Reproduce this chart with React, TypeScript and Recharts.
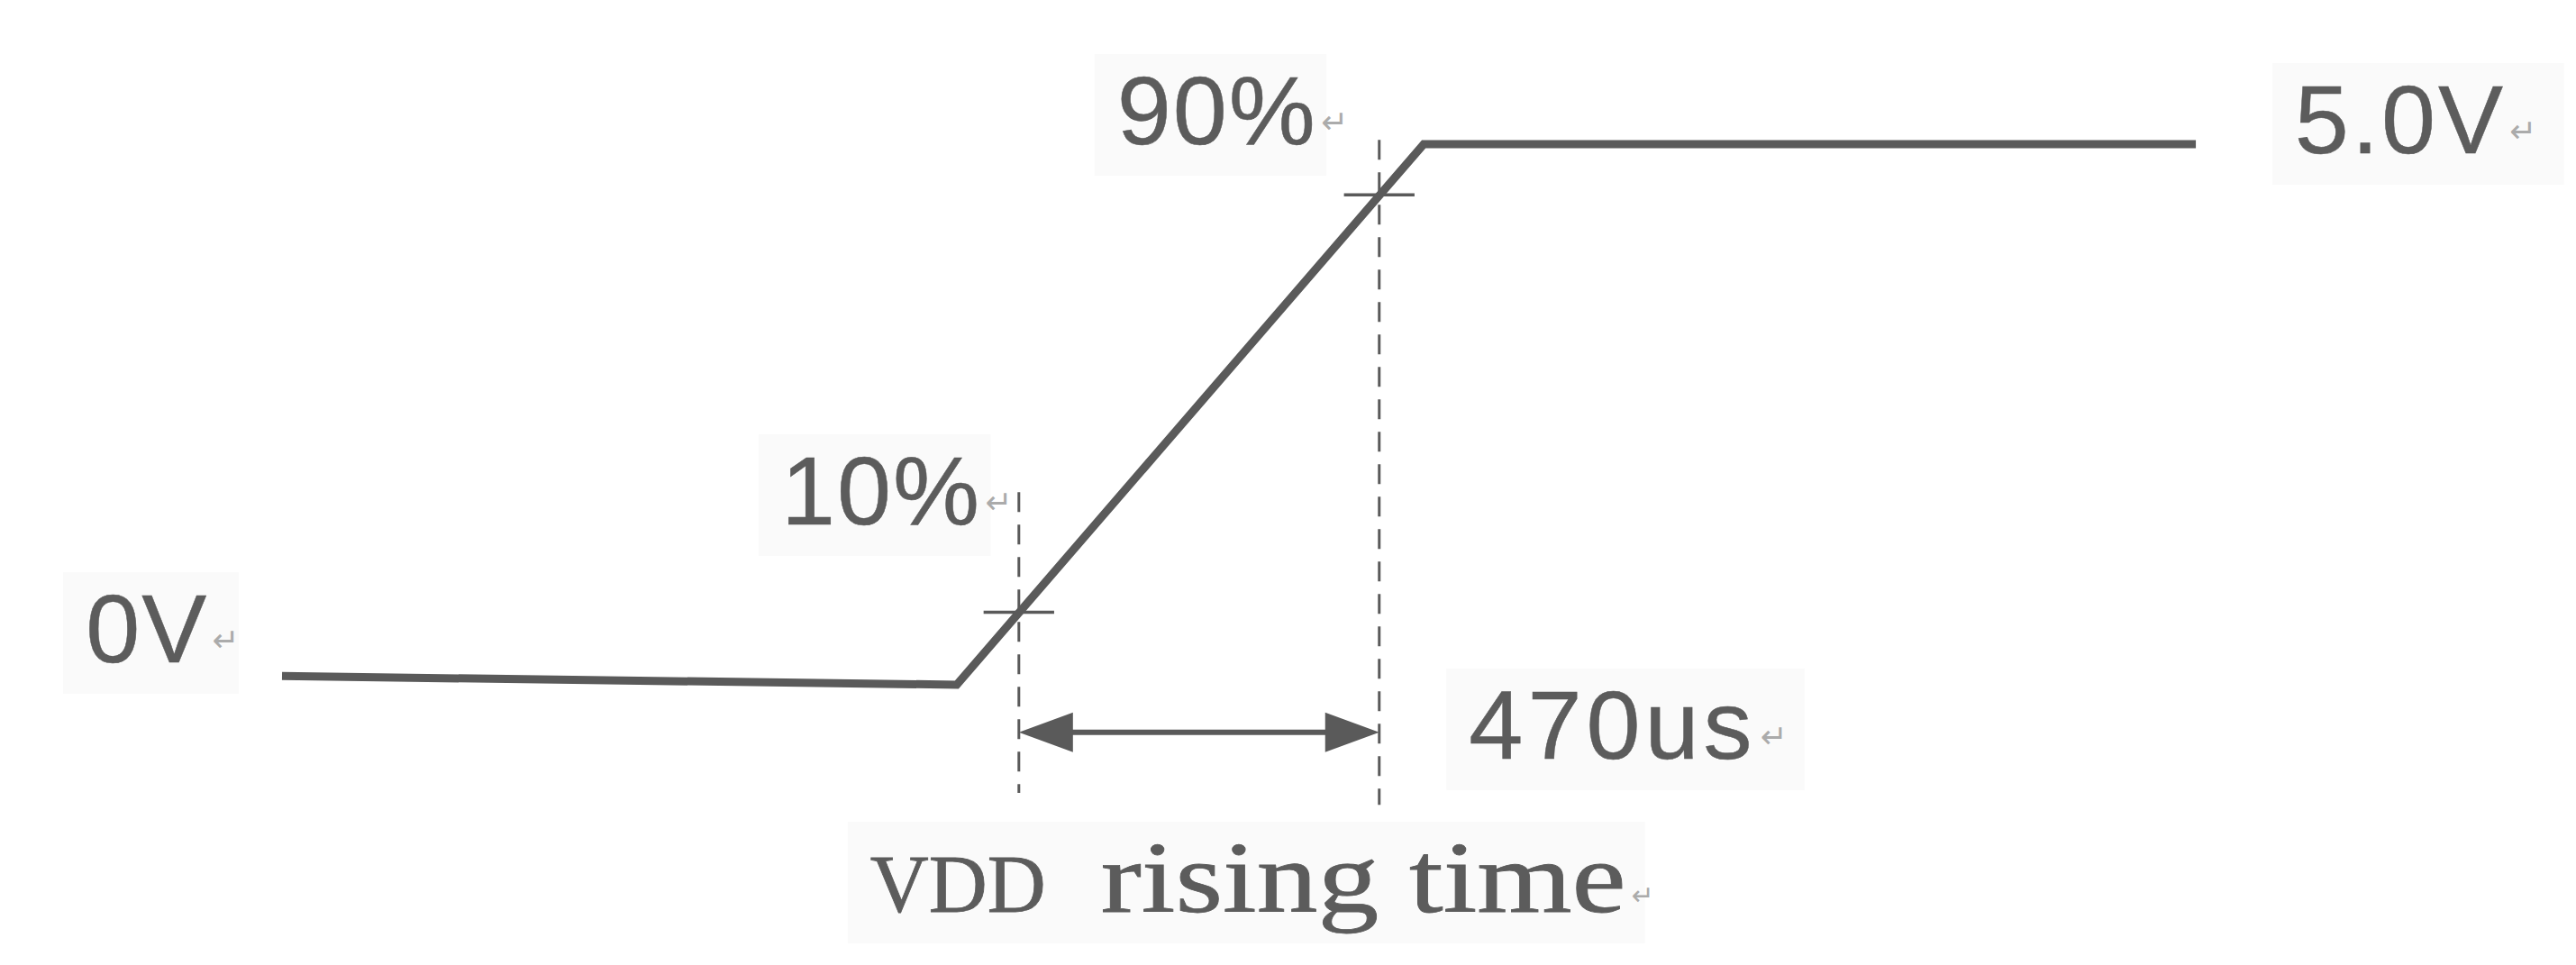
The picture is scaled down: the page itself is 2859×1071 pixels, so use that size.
import React from 'react';
import { LineChart, Line, XAxis, YAxis, ReferenceLine, ReferenceDot } from 'recharts';

// Waveform (time in µs, voltage in V)
const waveT = [0, 880, 1489, 2496];
const waveV = [0.08, 0, 5, 5];
const waveform = waveT.map((t, i) => ({ t, v: waveV[i] }));

// 10% / 90% crossing markers
const markerNames = ['10%', '90%'];
const markerT = [961, 1431];
const markerV = [0.67, 4.53];
const dashTopV = [1.78, 5.04];
const dashBottomV = [-1.0, -1.11];
const crossHalfT = 46;

// rising-time dimension arrow
const riseLabel = '470us';
const arrowV = -0.44;

// text annotations
const labelText = ['90%', '10%', '0V', '5.0V', riseLabel];
const labelT = [1089, 651, -256, 2625, 1548];
const labelV = [5.0, 1.483, 0.208, 4.917, -0.683];
const labelSpacing = [2, 2, 2, 3, 5];

const titleSmallCaps = 'VDD';
const titleRest = 'rising time';
const titleT = 767;
const titleV = -2.1;

const X_DOMAIN: [number, number] = [-367.8, 2991.8];
const Y_DOMAIN: [number, number] = [-2.592, 6.333];

const INK = '#5a5a5a';
const TEXT = '#5c5c5c';
const MARK = '#ababab';
const BOX = '#fafafa';

const SansLabel = (text: string, spacing: number) => (props: any) => {
  const { cx, cy } = props;
  const fs = 108;
  const w = text.length * (fs * 0.56 + spacing);
  return (
    <g>
      <rect x={cx - 25} y={cy - 100} width={w + 70} height={135} fill={BOX} />
      <text
        x={cx}
        y={cy}
        fontFamily="'Liberation Sans', Arial, sans-serif"
        fontSize={fs}
        fill={TEXT}
        stroke={TEXT}
        strokeWidth={0.5}
        letterSpacing={spacing}
      >
        {text}
        <tspan fontFamily="'DejaVu Sans', sans-serif" fontSize={36} fill={MARK} stroke="none" dx={4} dy={-12}>↵</tspan>
      </text>
    </g>
  );
};

const TitleShape = (props: any) => {
  const { cx, cy } = props;
  return (
    <g>
      <rect x={cx - 25} y={cy - 100} width={885} height={135} fill={BOX} />
      <text
        x={cx}
        y={cy}
        fontFamily="'Liberation Serif', 'Times New Roman', serif"
        fontSize={90}
        fill={TEXT}
        stroke={TEXT}
        strokeWidth={0.8}
      >
        {titleSmallCaps}
      </text>
      <text
        x={cx + 256}
        y={cy}
        fontFamily="'Liberation Serif', 'Times New Roman', serif"
        fontSize={112}
        fill={TEXT}
        stroke={TEXT}
        strokeWidth={0.8}
        textLength={583}
        lengthAdjust="spacingAndGlyphs"
      >
        {titleRest}
      </text>
      <text x={cx + 845} y={cy - 8} fontFamily="'DejaVu Sans', sans-serif" fontSize={30} fill={MARK}>↵</text>
    </g>
  );
};

const ArrowShape = (props: any) => {
  const { x1, y1, x2, y2 } = props;
  const len = 60;
  const half = 22;
  return (
    <g>
      <line x1={x1 + len - 5} y1={y1} x2={x2 - len + 5} y2={y2} stroke={INK} strokeWidth={6} />
      <polygon points={`${x1},${y1} ${x1 + len},${y1 - half} ${x1 + len},${y1 + half}`} fill={INK} />
      <polygon points={`${x2},${y2} ${x2 - len},${y2 - half} ${x2 - len},${y2 + half}`} fill={INK} />
    </g>
  );
};

export default function App() {
  return (
    <div style={{ position: 'absolute', left: 0, top: 0, background: '#ffffff' }}>
      <LineChart width={2859} height={1071} data={waveform} margin={{ top: 0, right: 0, bottom: 0, left: 0 }}>
        <XAxis dataKey="t" type="number" domain={X_DOMAIN} allowDataOverflow hide />
        <YAxis type="number" domain={Y_DOMAIN} allowDataOverflow hide />

        {labelText.map((txt, i) => (
          <ReferenceDot
            key={'lbl' + i}
            x={labelT[i]}
            y={labelV[i]}
            r={0}
            ifOverflow="visible"
            shape={SansLabel(txt, labelSpacing[i])}
          />
        ))}
        <ReferenceDot x={titleT} y={titleV} r={0} ifOverflow="visible" shape={TitleShape} />

        {markerNames.map((n, i) => (
          <ReferenceLine
            key={'dash' + n}
            segment={[{ x: markerT[i], y: dashTopV[i] }, { x: markerT[i], y: dashBottomV[i] }]}
            stroke={INK}
            strokeWidth={3}
            strokeDasharray="22 14"
            ifOverflow="visible"
          />
        ))}
        {markerNames.map((n, i) => (
          <ReferenceLine
            key={'cross' + n}
            segment={[{ x: markerT[i] - crossHalfT, y: markerV[i] }, { x: markerT[i] + crossHalfT, y: markerV[i] }]}
            stroke={INK}
            strokeWidth={3.5}
            ifOverflow="visible"
          />
        ))}
        <ReferenceLine
          segment={[{ x: markerT[0], y: arrowV }, { x: markerT[1], y: arrowV }]}
          ifOverflow="visible"
          shape={ArrowShape}
        />

        <Line
          type="linear"
          dataKey="v"
          stroke={INK}
          strokeWidth={9}
          dot={false}
          activeDot={false}
          strokeLinejoin="miter"
          isAnimationActive={false}
        />
      </LineChart>
    </div>
  );
}
